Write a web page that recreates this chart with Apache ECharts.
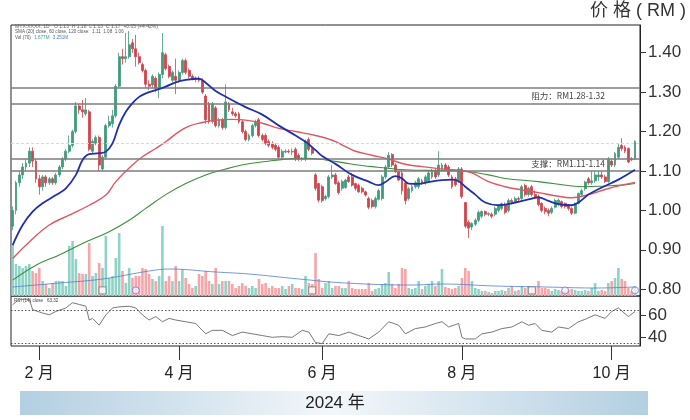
<!DOCTYPE html>
<html><head><meta charset="utf-8">
<script src="https://cdn.jsdelivr.net/npm/echarts@6/dist/echarts.min.js"></script>
<style>html,body{margin:0;padding:0;background:#fff;}#c{width:690px;height:420px;}</style>
</head><body><div id="c"></div>
<script>
// ---- data: daily candles [open, close, low, high] (RM) ----
const candles = [
[0.96,1.00,0.95,1.01],[1.00,1.07,0.99,1.075],[1.07,1.09,1.06,1.10],[1.09,1.11,1.08,1.12],[1.11,1.12,1.10,1.13],
[1.12,1.15,1.11,1.16],[1.15,1.125,1.11,1.16],[1.125,1.08,1.07,1.13],[1.08,1.06,1.04,1.09],[1.06,1.085,1.05,1.09],
[1.085,1.07,1.06,1.09],[1.07,1.08,1.065,1.085],[1.08,1.07,1.065,1.085],[1.07,1.09,1.065,1.095],[1.09,1.11,1.085,1.115],
[1.11,1.13,1.105,1.135],[1.13,1.15,1.125,1.155],[1.15,1.165,1.145,1.19],[1.165,1.20,1.16,1.205],[1.20,1.265,1.195,1.275],
[1.265,1.255,1.245,1.27],[1.255,1.25,1.235,1.28],[1.245,1.255,1.24,1.285],[1.25,1.155,1.15,1.255],[1.15,1.175,1.145,1.18],
[1.17,1.185,1.165,1.19],[1.185,1.115,1.10,1.19],[1.105,1.135,1.10,1.14],[1.135,1.215,1.13,1.22],[1.215,1.225,1.21,1.24],
[1.22,1.24,1.21,1.255],[1.24,1.315,1.235,1.32],[1.315,1.39,1.31,1.40],[1.39,1.385,1.37,1.41],[1.385,1.39,1.375,1.45],
[1.39,1.42,1.385,1.455],[1.425,1.41,1.40,1.435],[1.41,1.39,1.365,1.445],[1.39,1.375,1.37,1.40],[1.37,1.355,1.35,1.375],
[1.355,1.32,1.31,1.36],[1.32,1.315,1.305,1.33],[1.318,1.34,1.31,1.345],[1.335,1.31,1.30,1.34],[1.31,1.345,1.285,1.35],
[1.345,1.40,1.335,1.45],[1.395,1.36,1.355,1.40],[1.365,1.34,1.335,1.37],[1.33,1.35,1.325,1.355],[1.34,1.33,1.295,1.385],
[1.33,1.35,1.325,1.355],[1.35,1.38,1.345,1.385],[1.38,1.35,1.345,1.385],[1.355,1.34,1.335,1.36],[1.34,1.335,1.33,1.345],
[1.335,1.336,1.325,1.34],[1.335,1.33,1.325,1.34],[1.33,1.30,1.295,1.335],[1.29,1.23,1.22,1.295],[1.27,1.225,1.22,1.275],
[1.225,1.27,1.22,1.275],[1.26,1.215,1.21,1.265],[1.215,1.23,1.21,1.235],[1.23,1.21,1.205,1.235],[1.21,1.275,1.205,1.32],
[1.27,1.255,1.25,1.275],[1.25,1.245,1.24,1.26],[1.245,1.24,1.235,1.25],[1.245,1.225,1.22,1.25],[1.225,1.20,1.195,1.23],
[1.20,1.18,1.175,1.205],[1.18,1.19,1.175,1.195],[1.19,1.215,1.185,1.22],[1.215,1.225,1.21,1.23],[1.23,1.19,1.185,1.235],
[1.19,1.18,1.175,1.195],[1.19,1.17,1.165,1.195],[1.175,1.165,1.16,1.18],[1.17,1.16,1.155,1.175],[1.165,1.155,1.15,1.17],
[1.16,1.135,1.13,1.165],[1.135,1.15,1.13,1.155],[1.148,1.15,1.145,1.155],[1.15,1.148,1.145,1.155],[1.148,1.15,1.14,1.157],
[1.155,1.13,1.125,1.16],[1.14,1.13,1.125,1.145],[1.13,1.132,1.125,1.135],[1.13,1.175,1.125,1.18],[1.18,1.155,1.15,1.185],
[1.157,1.145,1.14,1.16],[1.09,1.056,1.05,1.095],[1.068,1.026,1.02,1.07],[1.06,1.025,1.02,1.065],[1.03,1.035,1.025,1.04],
[1.035,1.085,1.03,1.09],[1.085,1.09,1.08,1.115],[1.09,1.068,1.065,1.095],[1.07,1.045,1.04,1.075],[1.056,1.073,1.05,1.078],
[1.058,1.077,1.055,1.08],[1.085,1.073,1.07,1.09],[1.085,1.064,1.06,1.095],[1.068,1.056,1.05,1.07],[1.064,1.047,1.045,1.068],
[1.056,1.047,1.043,1.06],[1.047,1.039,1.035,1.05],[1.03,1.008,1.003,1.035],[1.025,1.01,1.005,1.03],[1.01,1.03,1.005,1.035],
[1.028,1.05,1.025,1.055],[1.03,1.085,1.025,1.09],[1.085,1.11,1.08,1.115],[1.11,1.14,1.105,1.148],[1.142,1.115,1.11,1.145],
[1.115,1.098,1.095,1.12],[1.098,1.077,1.075,1.10],[1.095,1.05,1.04,1.10],[1.07,1.025,1.015,1.075],[1.03,1.055,1.025,1.06],
[1.05,1.06,1.045,1.065],[1.06,1.07,1.055,1.075],[1.06,1.08,1.055,1.085],[1.075,1.07,1.065,1.08],[1.07,1.085,1.065,1.09],
[1.075,1.095,1.07,1.10],[1.085,1.10,1.08,1.105],[1.10,1.085,1.08,1.105],[1.09,1.115,1.085,1.15],[1.105,1.115,1.10,1.12],
[1.115,1.105,1.10,1.12],[1.11,1.09,1.085,1.115],[1.085,1.06,1.055,1.09],[1.08,1.065,1.06,1.085],[1.075,1.105,1.07,1.11],
[1.105,1.035,1.03,1.11],[1.02,0.96,0.955,1.02],[0.97,0.955,0.93,0.975],[0.958,0.967,0.95,0.97],[0.965,0.975,0.96,0.98],
[0.975,0.995,0.97,1.00],[0.985,0.997,0.98,1.00],[0.997,0.99,0.985,1.00],[0.99,0.992,0.985,0.995],[0.99,0.985,0.98,0.995],
[0.99,1.005,0.985,1.01],[1.00,1.01,0.995,1.015],[1.005,1.017,1.00,1.02],[1.015,0.995,0.99,1.02],[1.00,1.025,0.995,1.03],
[1.025,1.022,1.015,1.03],[1.022,1.03,1.02,1.035],[1.03,1.028,1.022,1.035],[1.03,1.06,1.025,1.065],[1.063,1.04,1.035,1.068],
[1.04,1.056,1.035,1.06],[1.06,1.04,1.035,1.065],[1.04,1.033,1.03,1.05],[1.035,1.015,1.01,1.04],[1.018,1.00,0.995,1.02],
[1.005,0.997,0.99,1.01],[1.00,0.993,0.985,1.005],[0.995,1.005,0.99,1.01],[1.008,1.025,1.005,1.03],[1.015,1.026,1.01,1.03],
[1.022,1.01,1.005,1.025],[1.018,1.01,1.005,1.02],[1.013,1.005,1.00,1.015],[1.005,0.993,0.988,1.008],[0.993,1.018,0.99,1.02],
[1.018,1.043,1.015,1.045],[1.04,1.05,1.035,1.055],[1.055,1.072,1.05,1.075],[1.08,1.07,1.065,1.085],[1.07,1.075,1.065,1.10],
[1.075,1.09,1.07,1.10],[1.085,1.09,1.075,1.10],[1.09,1.085,1.08,1.10],[1.085,1.073,1.07,1.09],[1.073,1.13,1.07,1.135],
[1.125,1.115,1.11,1.13],[1.115,1.144,1.11,1.148],[1.135,1.16,1.13,1.17],[1.165,1.157,1.15,1.183],[1.16,1.15,1.145,1.165],
[1.157,1.123,1.12,1.16],[1.13,1.128,1.125,1.135],[1.13,1.175,1.128,1.178]
];
// volume per day (relative units)
const volume = [
52,32,30,28,30,32,25,23,28,15,12,8,13,15,15,15,10,50,55,37,23,22,22,53,20,23,33,28,60,18,
20,38,63,25,13,28,18,20,20,28,27,22,17,15,20,70,15,20,15,30,15,27,18,12,8,10,22,20,25,15,
12,28,12,15,15,15,12,8,10,13,10,8,10,8,17,12,13,8,10,8,8,10,7,10,12,8,8,7,20,13,
12,43,17,8,13,15,8,10,10,8,8,15,8,7,7,7,7,13,5,7,8,12,13,24,12,8,12,28,27,8,
7,8,15,7,10,12,15,10,15,27,9,8,7,8,10,18,28,25,15,8,7,5,5,4,3,5,5,6,5,8,
10,5,6,10,8,10,8,8,15,8,8,7,5,7,6,5,5,6,7,6,5,5,6,5,8,13,5,6,5,13,
15,18,28,17,15,8,5,10
];
// moving averages: [day index, value]
const maFast = [[0,0.912],[3,0.963],[6,0.997],[9,1.018],[13,1.039],[16,1.056],[19,1.09],[21,1.128],[23,1.143],[26,1.145],[28,1.149],[30,1.17],[32,1.217],[34,1.25],[36,1.272],[38,1.288],[40,1.297],[43,1.305],[46,1.314],[49,1.325],[52,1.331],[56,1.334],[58,1.324],[61,1.303],[65,1.284],[70,1.262],[75,1.243],[80,1.215],[85,1.19],[88,1.174],[91,1.153],[93,1.138],[97,1.118],[102,1.09],[107,1.073],[110,1.064],[112,1.072],[115,1.087],[117,1.081],[119,1.068],[122,1.067],[125,1.072],[129,1.077],[132,1.078],[134,1.074],[136,1.06],[139,1.04],[142,1.02],[146,1.013],[151,1.02],[156,1.03],[158,1.033],[161,1.024],[164,1.016],[168,1.013],[170,1.02],[173,1.04],[177,1.058],[182,1.078],[187,1.103]];
const maMid = [[0,0.878],[5,0.92],[11,0.963],[17,0.988],[23,1.013],[28,1.039],[31,1.073],[36,1.115],[39,1.136],[43,1.157],[46,1.174],[50,1.2],[53,1.214],[57,1.223],[61,1.229],[66,1.231],[70,1.229],[75,1.221],[80,1.208],[85,1.2],[91,1.19],[96,1.178],[100,1.162],[103,1.15],[108,1.14],[113,1.13],[118,1.117],[123,1.111],[128,1.106],[132,1.103],[135,1.101],[138,1.095],[143,1.073],[148,1.06],[153,1.052],[158,1.045],[163,1.037],[168,1.032],[173,1.04],[178,1.053],[183,1.064],[187,1.071]];
const maSlow = [[0,0.823],[7,0.861],[14,0.887],[21,0.916],[29,0.946],[35,0.975],[40,1.005],[46,1.04],[52,1.068],[58,1.09],[64,1.105],[70,1.117],[76,1.124],[82,1.13],[88,1.132],[94,1.128],[100,1.12],[108,1.111],[118,1.103],[128,1.101],[135,1.1],[143,1.09],[148,1.081],[158,1.073],[168,1.062],[172,1.06],[178,1.062],[183,1.064],[187,1.068]];
const volMA = [[0,9],[14,13],[27,17],[41,25],[47,27],[61,24],[71,22],[86,17],[100,13],[120,11],[129,12],[145,10],[160,9],[175,8],[187,9]];
const rsi = [[0,70],[2,75],[5,75],[6,65.4],[9,62.3],[11,60.7],[13,63.8],[16,67],[18,71.8],[20,70.2],[22,68.6],[23,55.9],[24,57.4],[26,51.1],[27,55.9],[28,60.6],[30,67],[32,68],[35,68.6],[37,67],[39,60.6],[41,55.9],[43,59.1],[45,54.3],[47,57.4],[49,55.9],[52,54.3],[55,52.7],[58,43.2],[60,46.4],[63,46.4],[66,41.6],[69,44.8],[72,43.2],[75,41.6],[78,40],[81,40.6],[84,40],[87,46.4],[89,44.8],[91,35.2],[93,34.2],[95,43.2],[98,41.6],[101,44.8],[104,41.6],[107,38.5],[110,44.8],[113,54.3],[116,51.1],[118,43.2],[121,48],[124,49.5],[127,52.7],[129,54.3],[131,49.5],[134,52.7],[135,40],[136,38.5],[139,38.5],[141,43.2],[144,44.8],[147,48],[150,49.5],[153,54.3],[155,51.1],[157,52.7],[159,46.4],[162,44.8],[164,49.5],[167,48],[170,54.3],[172,56.5],[175,60.7],[178,57.4],[180,63.8],[182,67],[185,59.1],[187,63.8]];
const resistance = [1.31, 1.27];
const support = [1.132, 1.103];
const lastPrice = 1.174;
const priceTicks = [0.80, 0.90, 1.00, 1.10, 1.20, 1.30, 1.40];
const rsiTicks = [40, 60];
const rsiBands = [64.5, 34.5];
const monthTicks = {8: '2 月', 50: '4 月', 93: '6 月', 135: '8 月', 180: '10 月'};
const eventSquares = [27, 90, 156];
const eventCircles = [37, 166, 187];
const N = 189;

const days = Array.from({length: N}, (_, i) => String(i));
const UP = '#3f9b7b', DOWN = '#d1434b';
const volData = volume.map((v, i) => ({value: v, itemStyle: {color: candles[i][1] >= candles[i][0] ? '#8fd3c6' : '#f5a6a8'}}));
const FONT = '"Liberation Sans", Arial, "Noto Sans CJK SC", sans-serif';
const CJK = '"Noto Sans CJK SC", "Liberation Sans", sans-serif';

const chart = echarts.init(document.getElementById('c'), null, {renderer: 'canvas'});
const hline = (v, color, type, w) => ({yAxis: v, lineStyle: {color, type, width: w}});

chart.setOption({
  animation: false,
  backgroundColor: '#fff',
  grid: [
    {left: 11, top: 25, width: 629, height: 271, show: true, borderColor: '#222', borderWidth: 1, backgroundColor: 'transparent'},
    {left: 11, top: 296, width: 629, height: 50, show: true, borderColor: '#222', borderWidth: 1, backgroundColor: 'transparent'}
  ],
  xAxis: [
    {type: 'category', gridIndex: 0, data: days, boundaryGap: true, axisLine: {show: false}, axisTick: {show: false}, axisLabel: {show: false}, splitLine: {show: false}},
    {type: 'category', gridIndex: 1, data: days, boundaryGap: true, axisLine: {show: false},
      axisTick: {show: true, alignWithLabel: true, interval: (i) => (i in monthTicks), length: 14, lineStyle: {color: '#333', width: 1}},
      axisLabel: {show: true, interval: (i) => (i in monthTicks), formatter: (v, i) => monthTicks[i] || '', margin: 20, fontSize: 16, color: '#222', fontFamily: FONT},
      splitLine: {show: false}}
  ],
  yAxis: [
    {type: 'value', gridIndex: 0, position: 'right', min: 0.7828, max: 1.4703, splitLine: {show: false},
      axisLine: {show: true, lineStyle: {color: '#222'}},
      axisTick: {show: true, customValues: priceTicks, length: 6, lineStyle: {color: '#333'}},
      axisLabel: {customValues: priceTicks, formatter: (v) => v.toFixed(2), fontSize: 17, color: '#333', margin: 8, fontFamily: FONT}},
    {type: 'value', gridIndex: 0, min: 0, max: 271, show: false, splitLine: {show: false}},
    {type: 'value', gridIndex: 1, position: 'right', min: 32, max: 78, splitLine: {show: false},
      axisLine: {show: true, lineStyle: {color: '#222'}},
      axisTick: {show: true, customValues: rsiTicks, length: 6, lineStyle: {color: '#333'}},
      axisLabel: {customValues: rsiTicks, formatter: (v) => String(v), fontSize: 17, color: '#333', margin: 8, fontFamily: FONT}}
  ],
  series: [
    {type: 'bar', xAxisIndex: 0, yAxisIndex: 1, data: volData, barWidth: 2.6, z: 1, silent: true},
    {type: 'line', xAxisIndex: 0, yAxisIndex: 1, data: volMA, smooth: 0.4, showSymbol: false, lineStyle: {color: '#4f7fd6', width: 0.8}, z: 2, silent: true},
    {type: 'line', xAxisIndex: 0, yAxisIndex: 0, data: [], silent: true, z: 2,
      markLine: {silent: true, symbol: 'none', label: {show: false},
        data: [hline(resistance[0], '#7d7d7d', 'solid', 1.6), hline(resistance[1], '#7d7d7d', 'solid', 1.6),
               hline(support[0], '#7d7d7d', 'solid', 1.6), hline(support[1], '#7d7d7d', 'solid', 1.6),
               hline(lastPrice, '#d8d8d8', [3, 2], 1)]}},
    {type: 'candlestick', xAxisIndex: 0, yAxisIndex: 0, data: candles, barWidth: 2.4, z: 3, silent: true,
      itemStyle: {color: UP, color0: DOWN, borderColor: UP, borderColor0: DOWN, borderWidth: 0.8}},
    {type: 'line', xAxisIndex: 0, yAxisIndex: 0, data: maSlow, smooth: 0.4, showSymbol: false, lineStyle: {color: '#3b8f3b', width: 1.1}, z: 4, silent: true},
    {type: 'line', xAxisIndex: 0, yAxisIndex: 0, data: maMid, smooth: 0.4, showSymbol: false, lineStyle: {color: '#e05560', width: 1.4}, z: 4, silent: true},
    {type: 'line', xAxisIndex: 0, yAxisIndex: 0, data: maFast, smooth: 0.4, showSymbol: false, lineStyle: {color: '#1f2fae', width: 1.8}, z: 5, silent: true},
    {type: 'scatter', xAxisIndex: 0, yAxisIndex: 0, data: eventSquares.map(i => [i, 0.797]), symbol: 'rect', symbolSize: 7, z: 6, silent: true,
      itemStyle: {color: '#fff', borderColor: '#777', borderWidth: 1}},
    {type: 'scatter', xAxisIndex: 0, yAxisIndex: 0, data: eventCircles.map(i => [i, 0.797]), symbol: 'circle', symbolSize: 7, z: 6, silent: true,
      itemStyle: {color: '#f3f0ff', borderColor: '#7a72d0', borderWidth: 1}},
    {type: 'line', xAxisIndex: 1, yAxisIndex: 2, data: rsi, showSymbol: false, lineStyle: {color: '#555', width: 0.8}, z: 4, silent: true,
      markLine: {silent: true, symbol: 'none', label: {show: false},
        data: rsiBands.map(v => ({yAxis: v, lineStyle: {color: '#555', type: [1.5, 2], width: 1}}))}}
  ]
});

const p1 = chart.convertToPixel({xAxisIndex: 0, yAxisIndex: 0}, [178, (resistance[0] + resistance[1]) / 2]);
const p2 = chart.convertToPixel({xAxisIndex: 0, yAxisIndex: 0}, [178, (support[0] + support[1]) / 2]);

chart.setOption({
  graphic: [
    {type: 'text', right: 4, top: 2, style: {text: '价 格 ( RM )', font: '18px ' + FONT, fill: '#333'}},
    {type: 'rect', shape: {x: 20, y: 391, width: 628, height: 24}, z: 0,
      style: {fill: new echarts.graphic.LinearGradient(0, 0, 1, 0, [
        {offset: 0, color: '#b3cfe2'}, {offset: 0.5, color: '#f3f7fa'}, {offset: 1, color: '#b3cfe2'}])}},
    {type: 'text', x: 335, y: 403, z: 1, style: {text: '2024 年', font: '17px ' + FONT, fill: '#222', textAlign: 'center', textVerticalAlign: 'middle'}},
    {type: 'text', x: p1[0], y: p1[1], z: 10, style: {text: '阻力：RM1.28-1.32', font: '8.5px ' + CJK, fill: '#444', textAlign: 'right', textVerticalAlign: 'middle'}},
    {type: 'text', x: p2[0], y: p2[1], z: 10, style: {text: '支撑：RM1.11-1.14', font: '8.5px ' + CJK, fill: '#444', textAlign: 'right', textVerticalAlign: 'middle'}},
    {type: 'text', x: 15, y: 27, z: 10, style: {text: 'MYX:XXXX, 1D   O 1.13  H 1.18  L 1.13  C 1.17  +0.05 (+4.42%)', font: '5px ' + FONT, fill: '#666', textVerticalAlign: 'middle'}},
    {type: 'text', x: 15, y: 31.5, z: 10, style: {text: 'SMA (20) close, 60 close, 120 close:  1.11  1.08  1.06', font: '4.6px ' + FONT, fill: '#555', textVerticalAlign: 'middle'}},
    {type: 'text', x: 15, y: 37.5, z: 10, style: {text: '{a|Vol (70)} {b|1.677M} {c|3.251M}', rich: {a: {font: '4.6px ' + FONT, fill: '#555'}, b: {font: '4.6px ' + FONT, fill: '#2aa58f'}, c: {font: '4.6px ' + FONT, fill: '#4a7bd0'}}, textVerticalAlign: 'middle'}},
    {type: 'text', x: 14, y: 300.5, z: 10, style: {text: 'RSI (14) close   63.32', font: '4.6px ' + FONT, fill: '#444', textVerticalAlign: 'middle'}}
  ]
});
</script>
</body></html>
